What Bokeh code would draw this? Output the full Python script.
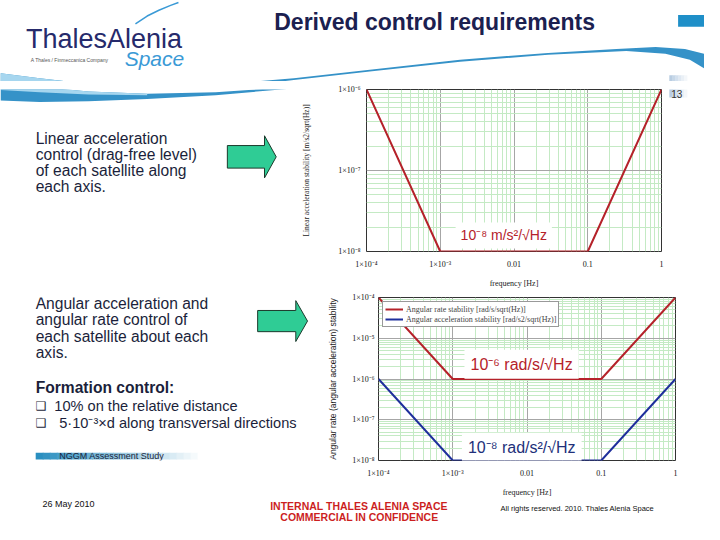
from bokeh.plotting import figure
from bokeh.layouts import column, row
from bokeh.models import Range1d, FixedTicker, CustomJSTickFormatter, Label, Legend, LegendItem
from bokeh.core.properties import value
from bokeh.embed import file_html
from bokeh.resources import INLINE

# ---------------- data ----------------
freq = [1e-4, 1e-3, 0.1, 1.0]
lin_acc = [1e-6, 1e-8, 1e-8, 1e-6]          # m/s^2/sqrt(Hz)
ang_rate = [1e-4, 1e-6, 1e-6, 1e-4]         # rad/s/sqrt(Hz)
ang_acc = [1e-6, 1e-8, 1e-8, 1e-6]          # rad/s^2/sqrt(Hz)
series_names = ["Angular rate stability [rad/s/sqrt(Hz)]",
                "Angular acceleration stability [rad/s2/sqrt(Hz)]"]

x_ticks = [1e-4, 1e-3, 1e-2, 1e-1, 1.0]
x_tick_labels = ["1×10⁻⁴", "1×10⁻³", "0.01", "0.1", "1"]
y1_ticks = [1e-8, 1e-7, 1e-6]
y1_tick_labels = ["1×10⁻⁸", "1×10⁻⁷", "1×10⁻⁶"]
y2_ticks = [1e-8, 1e-7, 1e-6, 1e-5, 1e-4]
y2_tick_labels = ["1×10⁻⁸", "1×10⁻⁷", "1×10⁻⁶", "1×10⁻⁵", "1×10⁻⁴"]

# ---------------- styles ----------------
SANS = "Liberation Sans"
SERIF = "Liberation Serif"
NAVY = "#1b2050"
TXT = "#1b1f3b"
RED = "#b5222a"
BLUE = "#1f2f9c"
ANN_BLUE = "#22307a"
MAJOR_GRID = "#a6a6a6"
MINOR_GRID = "#c4eac4"
ARROW_FILL = "#2fcc95"

SX = 704 / 720.0
SY = 524 / 540.0

minor_x = [m * 10.0 ** e for e in range(-4, 0) for m in range(2, 10)]
minor_y1 = [m * 10.0 ** e for e in range(-8, -6) for m in range(2, 10)]
minor_y2 = [m * 10.0 ** e for e in range(-8, -4) for m in range(2, 10)]


def deco(px0, px1, py0, py1):
    """decoration panel covering pixels [px0,px1]x[py0,py1], in slide coordinates"""
    p = figure(width=px1 - px0, height=py1 - py0,
               x_range=Range1d(px0 / SX, px1 / SX), y_range=Range1d(py1 / SY, py0 / SY),
               toolbar_location=None, output_backend="svg", min_border=0, title=None,
               x_axis_location=None, y_axis_location=None)
    p.grid.visible = False
    p.outline_line_color = None
    return p


def txt(p, x, y, s, size, color=TXT, font=SANS, style="normal", align="left"):
    p.text(x=[x], y=[y], text=[s], text_font=value(font), text_font_size=size,
           text_color=color, text_font_style=style, text_align=align, text_baseline="middle")


def fmt(tk, lb):
    return CustomJSTickFormatter(args=dict(tk=tk, lb=lb), code="""
        for (let i = 0; i < tk.length; i++) {
            if (Math.abs(Math.log10(tk[i]) - Math.log10(tick)) < 1e-6) return lb[i];
        }
        return "";
    """)


def style_axes(p, xstand, ystand, xl_stand, yl_stand, ylab_font, ylab_size):
    for ax in list(p.xaxis) + list(p.yaxis):
        ax.major_tick_line_color = None
        ax.minor_tick_line_color = None
        ax.major_tick_out = 0
        ax.major_tick_in = 0
        ax.minor_tick_out = 0
        ax.minor_tick_in = 0
        ax.axis_line_color = None
        ax.major_label_text_font = SERIF
        ax.major_label_text_font_size = "8px"
        ax.major_label_text_color = "#111111"
        ax.axis_label_text_font_style = "normal"
        ax.axis_label_text_color = "#222222"
    p.xaxis.major_label_standoff = xstand
    p.yaxis.major_label_standoff = ystand
    p.xaxis.axis_label_standoff = xl_stand
    p.yaxis.axis_label_standoff = yl_stand
    p.xaxis.axis_label_text_font = SERIF
    p.xaxis.axis_label_text_font_size = "8px"
    p.yaxis.axis_label_text_font = ylab_font
    p.yaxis.axis_label_text_font_size = ylab_size
    p.xgrid.grid_line_color = MAJOR_GRID
    p.ygrid.grid_line_color = MAJOR_GRID
    p.xgrid.minor_grid_line_color = MINOR_GRID
    p.ygrid.minor_grid_line_color = MINOR_GRID
    p.outline_line_color = "#333333"
    p.outline_line_width = 1


# swoosh decoration (slide template)
sw_x = [0, 40, 90, 150, 220, 300, 380, 470, 560, 630, 670, 700, 720,
        720, 705, 680, 640, 560, 470, 380, 300, 220, 150, 90, 40, 0]
sw_y = [75, 80, 86, 89, 87, 80, 71, 61, 54, 50, 48, 50, 55,
        70, 61, 55, 52, 56, 63, 73, 82, 91, 96, 99, 100, 98]
hl_x = [0, 40, 90, 150, 150, 90, 40, 0]
hl_y = [75, 80, 86, 89, 91, 90, 87, 84]


def swoosh(p):
    p.patch(sw_x, sw_y, fill_color="#3592c8", line_color=None)
    p.patch(hl_x, hl_y, fill_color="#a6d6ef", line_color=None)


def page_square(p):
    shades = ["#b9cde2", "#c6d7e8", "#d3e0ee", "#dfe8f2", "#eaf0f6", "#f4f7fa"]
    for i, c in enumerate(shades):
        p.quad(left=[684 + 3 * i], right=[684 + 3 * (i + 1) + 0.5], top=[77], bottom=[94],
               fill_color=c, line_color=None)


# pixel layout boundaries
Y0, Y1, Y2, Y3, Y4 = 0, 81, 290, 499, 524
XA, XB = 297, 667       # row 1 splits
XC = 325                # row 2 split
W = 704

# ---------------- header ----------------
head = deco(0, W, Y0, Y1)
swoosh(head)
head.line([138, 150, 162, 174, 182], [24, 16, 10, 5, 2], line_color="#3a9ad6", line_width=1.5)
head.quad(left=[693], right=[720], top=[15], bottom=[27], fill_color="#1f8fc8", line_color=None)
page_square(head)
txt(head, 444, 22, "Derived control requirements", "23px", color=NAVY, style="bold", align="center")
txt(head, 26, 40, "ThalesAlenia", "27px", color="#262a6b")
txt(head, 127, 60, "Space", "21px", color="#3a9ad6", style="italic")
txt(head, 31, 61, "A Thales / Finmeccanica Company", "5px", color="#555555")

# ---------------- row 1 ----------------
left1 = deco(0, XA, Y1, Y2)
swoosh(left1)
for s, yy in zip(["Linear acceleration", "control (drag-free level)",
                  "of each satellite along", "each axis."], [148, 170, 191, 212]):
    txt(left1, 36, yy, s, "15.6px")
left1.patch([232, 270, 270, 282, 270, 270, 232], [158, 158, 145, 173, 201, 188, 188],
            fill_color=ARROW_FILL, line_color="#1c3a2c", line_width=1)

p1 = figure(width=XB - XA, height=Y2 - Y1, x_axis_type="log", y_axis_type="log",
            x_range=Range1d(1e-4, 1.0), y_range=Range1d(1e-8, 1e-6),
            toolbar_location=None, output_backend="svg", title=None,
            min_border_left=69, min_border_right=6, min_border_top=8, min_border_bottom=36)
p1.xaxis.ticker = FixedTicker(ticks=x_ticks, minor_ticks=minor_x)
p1.yaxis.ticker = FixedTicker(ticks=y1_ticks, minor_ticks=minor_y1)
p1.xaxis.formatter = fmt(x_ticks, x_tick_labels)
p1.yaxis.formatter = fmt(y1_ticks, y1_tick_labels)
p1.xaxis.axis_label = "frequency [Hz]"
p1.yaxis.axis_label = "Linear acceleration stability [m/s2/sqrt(Hz)]"
style_axes(p1, 8, 6, 7, 24, SERIF, "7.5px")
p1.line(freq, lin_acc, line_color=RED, line_width=2)
p1.add_layout(Label(x=0.00726, y=1.58e-8, text="10⁻⁸ m/s²/√Hz", text_font=SANS,
                    text_font_size="14px", text_color=RED, text_align="center",
                    text_baseline="middle", background_fill_color="white", padding=5))

strip1 = deco(XB, W, Y1, Y2)
page_square(strip1)
txt(strip1, 686, 89.5, "13", "10px", color="#333333")

# ---------------- row 2 ----------------
left2 = deco(0, XC, Y2, Y3)
for s, yy in zip(["Angular acceleration and", "angular rate control of",
                  "each satellite about each", "axis."], [307, 328, 350, 371]):
    txt(left2, 36, yy, s, "15.6px")
left2.patch([263, 302, 302, 314, 302, 302, 263], [316, 316, 303, 330, 357, 344, 344],
            fill_color=ARROW_FILL, line_color="#1c3a2c", line_width=1)
txt(left2, 36, 418, "Formation control:", "15.6px", style="bold")
txt(left2, 36, 442, "❑", "12px", font="DejaVu Sans")
txt(left2, 55, 442, "10% on the relative distance", "14.6px")
txt(left2, 36, 465, "❑", "12px", font="DejaVu Sans")
txt(left2, 60, 465, "5·10⁻³×d along transversal directions", "14.6px")
# gradient bar behind study name
n = 24
for i in range(n):
    t = i / (n - 1)
    c = (int(42 + (255 - 42) * t), int(143 + (255 - 143) * t), int(192 + (255 - 192) * t))
    left2.quad(left=[36 + i * 7.2], right=[36 + (i + 1) * 7.2 + 0.8], top=[504], bottom=[513],
               fill_color="#%02x%02x%02x" % c, line_color=None)
txt(left2, 60, 508.5, "NGGM Assessment Study", "9px", color="#1b1f3b")

p2 = figure(width=W - XC, height=Y3 - Y2, x_axis_type="log", y_axis_type="log",
            x_range=Range1d(1e-4, 1.0), y_range=Range1d(1e-8, 1e-4),
            toolbar_location=None, output_backend="svg", title=None,
            min_border_left=53, min_border_right=29, min_border_top=7, min_border_bottom=36)
p2.xaxis.ticker = FixedTicker(ticks=x_ticks, minor_ticks=minor_x)
p2.yaxis.ticker = FixedTicker(ticks=y2_ticks, minor_ticks=minor_y2)
p2.xaxis.formatter = fmt(x_ticks, x_tick_labels)
p2.yaxis.formatter = fmt(y2_ticks, y2_tick_labels)
p2.xaxis.axis_label = "frequency [Hz]"
p2.yaxis.axis_label = "Angular rate (angular acceleration) stability"
style_axes(p2, 8, 4, 7, 11, SANS, "8.5px")
r_rate = p2.line(freq, ang_rate, line_color=RED, line_width=2)
r_acc = p2.line(freq, ang_acc, line_color=BLUE, line_width=2)
p2.add_layout(Label(x=0.00845, y=2.31e-6, text="10⁻⁶ rad/s/√Hz", text_font=SANS,
                    text_font_size="16px", text_color=RED, text_align="center",
                    text_baseline="middle", background_fill_color="white", padding=6))
p2.add_layout(Label(x=0.0085, y=2.12e-8, text="10⁻⁸ rad/s²/√Hz", text_font=SANS,
                    text_font_size="16px", text_color=ANN_BLUE, text_align="center",
                    text_baseline="middle", background_fill_color="white", padding=6))
leg = Legend(items=[LegendItem(label=series_names[0], renderers=[r_rate]),
                    LegendItem(label=series_names[1], renderers=[r_acc])],
             location="top_left", margin=4, padding=2, spacing=0,
             glyph_width=18, glyph_height=10, label_height=10, label_standoff=3,
             label_text_font=SERIF, label_text_font_size="8px",
             border_line_color="#333333", border_line_width=1,
             background_fill_color="white", background_fill_alpha=1)
p2.add_layout(leg)

# ---------------- footer ----------------
foot = deco(0, W, Y3, Y4)
txt(foot, 43, 519, "26 May 2010", "9px", color="#111111")
txt(foot, 367, 520.5, "INTERNAL THALES ALENIA SPACE", "10.5px", color="#cc1f1f", style="bold", align="center")
txt(foot, 367, 532, "COMMERCIAL IN CONFIDENCE", "10.5px", color="#cc1f1f", style="bold", align="center")
txt(foot, 590, 524, "All rights reserved. 2010. Thales Alenia Space", "7.5px", color="#111111", align="center")

layout = column(head, row(left1, p1, strip1), row(left2, p2), foot)
open("out.html", "w").write(file_html(layout, INLINE))
